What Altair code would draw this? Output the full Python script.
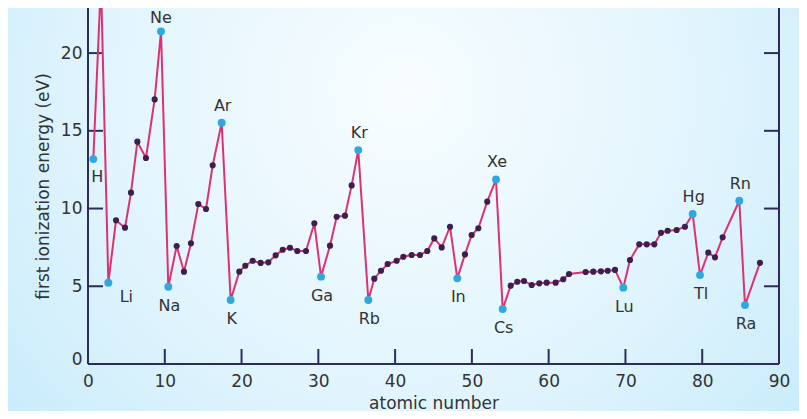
import altair as alt
import pandas as pd

# ---- data ----
atomic_number = [0.69, 1.69, 2.65, 3.65, 4.82, 5.60, 6.43, 7.55, 8.68, 9.51,
                 10.46, 11.55, 12.50, 13.41, 14.37, 15.37, 16.24, 17.41, 18.58, 19.71,
                 20.49, 21.45, 22.49, 23.49, 24.44, 25.36, 26.31, 27.26, 28.39, 29.48,
                 30.35, 31.52, 32.39, 33.47, 34.34, 35.20, 36.51, 37.29, 38.16, 39.03,
                 40.20, 41.07, 42.16, 43.24, 44.19, 45.10, 46.07, 47.15, 48.10, 49.10,
                 49.97, 50.84, 52.00, 53.14, 54.01, 55.05, 55.91, 56.79, 57.79, 58.78,
                 59.74, 60.91, 61.90, 62.65, 64.82, 65.81, 66.81, 67.69, 68.64, 69.72,
                 70.59, 71.80, 72.77, 73.76, 74.63, 75.50, 76.67, 77.75, 78.76, 79.71,
                 80.79, 81.66, 82.66, 84.83, 85.57, 87.52]
energy = [13.18, 24.6, 5.23, 9.24, 8.77, 11.02, 14.30, 13.25, 17.02, 21.40,
          4.97, 7.59, 5.94, 7.76, 10.29, 9.97, 12.78, 15.52, 4.12, 5.94,
          6.32, 6.64, 6.50, 6.54, 6.99, 7.35, 7.48, 7.27, 7.27, 9.05,
          5.62, 7.61, 9.47, 9.54, 11.49, 13.76, 4.12, 5.49, 6.00, 6.43,
          6.64, 6.90, 7.01, 7.01, 7.27, 8.08, 7.50, 8.83, 5.51, 7.05,
          8.30, 8.73, 10.44, 11.87, 3.54, 5.04, 5.29, 5.34, 5.08, 5.19,
          5.23, 5.23, 5.45, 5.79, 5.92, 5.94, 5.96, 6.00, 6.05, 4.91,
          6.69, 7.70, 7.70, 7.70, 8.44, 8.57, 8.62, 8.83, 9.65, 5.72,
          7.16, 6.86, 8.15, 10.50, 3.79, 6.51]
labelled = {0: "H", 2: "Li", 9: "Ne", 10: "Na", 17: "Ar", 18: "K", 30: "Ga",
            35: "Kr", 36: "Rb", 48: "In", 53: "Xe", 54: "Cs", 69: "Lu",
            78: "Hg", 79: "Tl", 83: "Rn", 84: "Ra"}
symbols = [labelled.get(i, "") for i in range(len(atomic_number))]

x_label_values = [0, 10, 20, 30, 40, 50, 60, 70, 80, 90]
y_label_values = [0, 5, 10, 15, 20]
x_tick_values = [10, 20, 30, 40, 50, 60, 70, 80]
y_tick_values = [5, 10, 15, 20]

# label placement (style only)
above = {"Ar", "Kr", "Xe", "Hg", "Rn"}
placement = {s: ("above" if s in above else "below") for s in labelled.values()}
placement["Ne"] = "above_top"
placement["Li"] = "right"
placement["H"] = "below_right"
offsets = {"above": (1, -17), "above_top": (0, -13), "below": (1, 19),
           "right": (18, 14), "below_right": (4, 18)}

# ---- layout / style ----
W, H = 691, 356
FONT = "DejaVu Sans"
TXT = "#333333"
AXC = "#2c2d5a"
LINE = "#de3170"
DOT = "#3c1f4f"
CYAN = "#2ea8df"

df = pd.DataFrame({"atomic_number": atomic_number, "energy": energy, "symbol": symbols})
df["place"] = df["symbol"].map(lambda s: placement.get(s, ""))

xscale = alt.Scale(domain=[0, 90], nice=False, zero=False)
yscale = alt.Scale(domain=[0, 22.9], nice=False, zero=False)

xaxis = alt.Axis(values=x_label_values, domain=False, ticks=False, grid=False,
                 labelFont=FONT, labelFontSize=17, labelColor=TXT, labelPadding=9,
                 labelFlush=False, title="atomic number", titleFont=FONT,
                 titleFontSize=17, titleFontWeight="normal", titleColor=TXT,
                 titleY=44, titleBaseline="alphabetic", zindex=1)
yaxis = alt.Axis(values=y_label_values, domain=False, ticks=False, grid=False,
                 labelFont=FONT, labelFontSize=17, labelColor=TXT, labelPadding=6,
                 labelFlush=False,
                 labelBaseline={"condition": {"test": "datum.value === 0",
                                              "value": "alphabetic"},
                                "value": "middle"},
                 title="first ionization energy (eV)", titleFont=FONT,
                 titleFontSize=17, titleFontWeight="normal", titleColor=TXT,
                 titleAngle=-90, titleX=-40, titleY=178, titleAlign="center",
                 titleBaseline="alphabetic", zindex=1)


def X():
    return alt.X("atomic_number:Q", scale=xscale, axis=xaxis)


def Y():
    return alt.Y("energy:Q", scale=yscale, axis=yaxis)


one = pd.DataFrame({"k": [0]})

bg = alt.Chart(one).mark_rect(
    fill=alt.RadialGradient(
        gradient="radial", x1=0.5, y1=0.35, r1=0.0, x2=0.5, y2=0.35, r2=0.8,
        stops=[alt.GradientStop(color="#f8fdff", offset=0),
               alt.GradientStop(color="#e0f4fd", offset=0.5),
               alt.GradientStop(color="#bce7f9", offset=1)]),
    stroke=None,
).encode(x=alt.value(-80), x2=alt.value(W + 20), y=alt.value(0), y2=alt.value(H + 47))

left_line = alt.Chart(one).mark_rule(color=AXC, strokeWidth=2).encode(
    x=alt.value(0), y=alt.value(0), y2=alt.value(H))
right_line = alt.Chart(one).mark_rule(color=AXC, strokeWidth=2).encode(
    x=alt.value(W), y=alt.value(0), y2=alt.value(H))
bottom_line = alt.Chart(one).mark_rule(color=AXC, strokeWidth=2).encode(
    x=alt.value(0), x2=alt.value(W), y=alt.value(H))

ydf = pd.DataFrame({"energy": y_tick_values})
xdf = pd.DataFrame({"atomic_number": x_tick_values})
left_ticks = alt.Chart(ydf).mark_rule(color=AXC, strokeWidth=2).encode(
    y=Y(), x=alt.value(0), x2=alt.value(15))
right_ticks = alt.Chart(ydf).mark_rule(color=AXC, strokeWidth=2).encode(
    y=Y(), x=alt.value(W - 15), x2=alt.value(W))
bottom_ticks = alt.Chart(xdf).mark_rule(color=AXC, strokeWidth=2).encode(
    x=X(), y=alt.value(H - 15), y2=alt.value(H))

base = alt.Chart(df)
line = base.mark_line(color=LINE, strokeWidth=2, clip=True).encode(x=X(), y=Y())
dots = base.transform_filter(alt.datum.symbol == "").mark_circle(
    size=38, color=DOT, opacity=1, clip=True).encode(x=X(), y=Y())
cyan = base.transform_filter(alt.datum.symbol != "").mark_circle(
    size=62, color=CYAN, opacity=1, clip=True).encode(x=X(), y=Y())

texts = []
for key, (dx, dy) in offsets.items():
    texts.append(
        base.transform_filter(alt.datum.place == key).mark_text(
            font=FONT, fontSize=16, color=TXT, dx=dx, dy=dy,
            align="center", baseline="middle").encode(x=X(), y=Y(), text="symbol:N"))

chart = alt.layer(bg, left_line, right_line, bottom_line, left_ticks, right_ticks,
                  bottom_ticks, line, dots, cyan, *texts).properties(
    width=W, height=H,
    autosize=alt.AutoSizeParams(type="none"),
    padding={"left": 80, "top": 0, "right": 20, "bottom": 47},
    background="white",
).configure_view(stroke=None)

chart.save("out.html", embed_options={"renderer": "svg", "actions": False})
